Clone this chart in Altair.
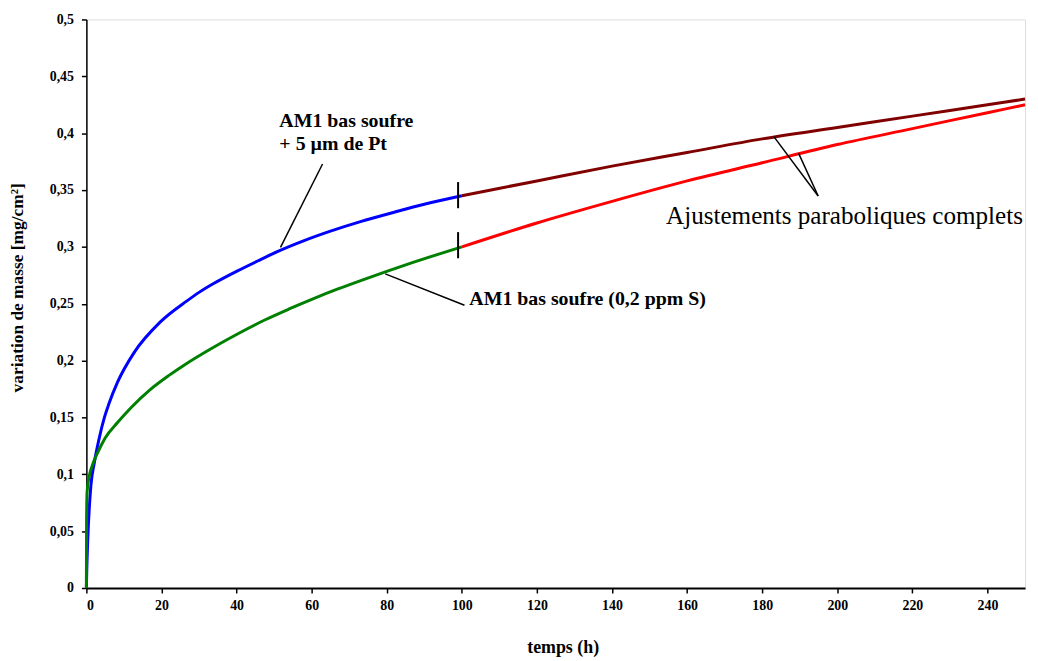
import altair as alt
import pandas as pd

# --- data ---
blue_t = [0, 0.1, 0.35, 1.2, 2.1, 3.4, 4.8, 6, 8.3, 12.7, 19.7, 26.8, 30, 34, 40, 46, 51, 58, 65, 73, 82, 90, 100]
blue_v = [0, 0.015, 0.041, 0.09, 0.11, 0.1315, 0.15, 0.162, 0.181, 0.207, 0.234, 0.2525, 0.26, 0.268, 0.2785,
          0.2882, 0.296, 0.3055, 0.3138, 0.3222, 0.3305, 0.3375, 0.345]

green_t = [0, 0.05, 0.2, 0.8, 1.5, 3, 5, 8.3, 12, 17, 22, 26, 34, 40, 47.5, 54, 61, 67, 74, 80, 87, 93, 100]
green_v = [0, 0.06, 0.085, 0.099, 0.107, 0.119, 0.132, 0.1455, 0.159, 0.1745, 0.187, 0.196, 0.212, 0.223,
           0.2357, 0.2454, 0.2552, 0.263, 0.2715, 0.2785, 0.2863, 0.2928, 0.3]

fitpt_t = [100, 120, 140, 160, 180, 200, 220, 240, 250]
fitpt_v = [0.345, 0.358, 0.371, 0.383, 0.395, 0.405, 0.415, 0.425, 0.43]

fitlow_t = [100, 120, 140, 160, 180, 200, 220, 240, 250]
fitlow_v = [0.3, 0.321, 0.34, 0.358, 0.374, 0.39, 0.404, 0.418, 0.425]

series_names = ["AM1 + Pt", "AM1 + Pt ajust.", "AM1", "AM1 ajust."]
series_colors = ["#0000FF", "#800000", "#008000", "#FF0000"]

x_ticks = [0, 20, 40, 60, 80, 100, 120, 140, 160, 180, 200, 220, 240]
y_ticks = [0, 0.05, 0.1, 0.15, 0.2, 0.25, 0.3, 0.35, 0.4, 0.45, 0.5]

# annotation texts (data coordinates)
label_text = ["AM1 bas soufre", "+ 5 µm de Pt", "AM1 bas soufre (0,2 ppm S)"]
label_t = [51.4, 51.4, 102]
label_v = [0.4058, 0.3854, 0.2487]
fit_label = "Ajustements paraboliques complets"
fit_label_t = 154.4
fit_label_v = 0.32

# leader lines
lead_t1 = [62.9, 79.6, 183.1, 189.7]
lead_v1 = [0.3729, 0.2763, 0.397, 0.3822]
lead_t2 = [51.7, 100.7, 194.9, 194.9]
lead_v2 = [0.2996, 0.2487, 0.3447, 0.3447]

# junction markers at t = 100
mark_t = [99, 99]
mark_v1 = [0.334, 0.290]
mark_v2 = [0.357, 0.313]

rows = []
for name, ts, vs in [
    (series_names[0], blue_t, blue_v),
    (series_names[1], fitpt_t, fitpt_v),
    (series_names[2], green_t, green_v),
    (series_names[3], fitlow_t, fitlow_v),
]:
    for t, v in zip(ts, vs):
        rows.append({"serie": name, "t": t, "v": v})
df = pd.DataFrame(rows)

W, H = 946, 573
serif = "Liberation Serif"

xscale = alt.Scale(domain=[0, 250], nice=False, zero=False)
yscale = alt.Scale(domain=[0, 0.5], nice=False)

lines = alt.Chart(df).mark_line(strokeWidth=3, interpolate="monotone").encode(
    x=alt.X("t:Q", scale=xscale, axis=alt.Axis(
        title="temps (h)", values=x_ticks, grid=False, domainColor="black", domainWidth=2,
        tickColor="black", tickSize=5, tickWidth=1.5, labelFont=serif, labelFontSize=14,
        labelFontWeight="bold", labelColor="black", labelPadding=6,
        titleFont=serif, titleFontSize=18, titleFontWeight="bold", titleColor="black",
        titleY=60, titleX=480, titleBaseline="middle")),
    y=alt.Y("v:Q", scale=yscale, axis=alt.Axis(
        title="variation de masse [mg/cm²]", values=y_ticks, grid=False, domainColor="black",
        domainWidth=1.5, tickColor="black", tickSize=5, tickWidth=1.5, labelFont=serif,
        labelFontSize=14, labelFontWeight="bold", labelColor="black", labelPadding=8,
        labelExpr="replace(format(datum.value, '.2~f'), '.', ',')",
        titleFont=serif, titleFontSize=17.5, titleFontWeight="bold", titleColor="black",
        titleX=-69, titleY=270, titleBaseline="middle")),
    color=alt.Color("serie:N", scale=alt.Scale(domain=series_names, range=series_colors), legend=None),
    detail="serie:N",
)

lead_df = pd.DataFrame({"t1": lead_t1, "v1": lead_v1, "t2": lead_t2, "v2": lead_v2})
leaders = alt.Chart(lead_df).mark_rule(color="black", strokeWidth=1.5).encode(
    x=alt.X("t1:Q", scale=xscale), y=alt.Y("v1:Q", scale=yscale),
    x2="t2:Q", y2="v2:Q")

mark_df = pd.DataFrame({"t": mark_t, "v1": mark_v1, "v2": mark_v2})
markers = alt.Chart(mark_df).mark_rule(color="black", strokeWidth=2).encode(
    x=alt.X("t:Q", scale=xscale), y=alt.Y("v1:Q", scale=yscale), y2="v2:Q")

lab_df = pd.DataFrame({"t": label_t, "v": label_v, "txt": label_text})
labels = alt.Chart(lab_df).mark_text(
    align="left", baseline="alphabetic", font=serif, fontSize=20, fontWeight="bold", color="black"
).encode(x=alt.X("t:Q", scale=xscale), y=alt.Y("v:Q", scale=yscale), text="txt:N")

fit_df = pd.DataFrame({"t": [fit_label_t], "v": [fit_label_v], "txt": [fit_label]})
fitlab = alt.Chart(fit_df).mark_text(
    align="left", baseline="alphabetic", font=serif, fontSize=25.3, color="black"
).encode(x=alt.X("t:Q", scale=xscale), y=alt.Y("v:Q", scale=yscale), text="txt:N")

chart = alt.layer(lines, leaders, markers, labels, fitlab).properties(
    width=W, height=H,
    autosize=alt.AutoSizeParams(type="none"),
    padding={"left": 79, "top": 9, "right": 5, "bottom": 70},
).configure_view(stroke=None).configure(background="white")

chart.save("out.html", embed_options={"renderer": "svg", "actions": False})
